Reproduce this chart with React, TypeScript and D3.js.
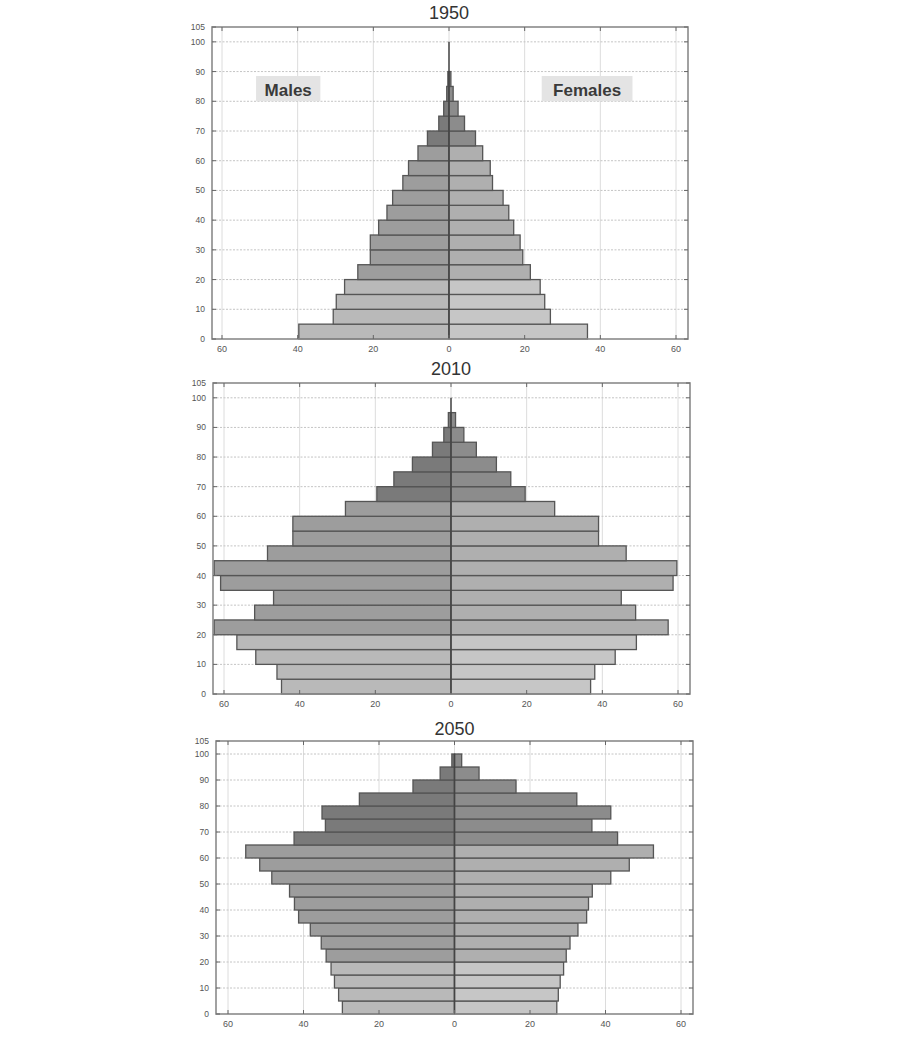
import React from "react";
import * as d3 from "d3";

const ageStarts = [0, 5, 10, 15, 20, 25, 30, 35, 40, 45, 50, 55, 60, 65, 70, 75, 80, 85, 90, 95];
const xTicks = [-60, -40, -20, 0, 20, 40, 60];
const yTicks = [0, 10, 20, 30, 40, 50, 60, 70, 80, 90, 100, 105];
const gridY = [10, 20, 30, 40, 50, 60, 70, 80, 90, 100];

const males1950 = [39.7, 30.6, 29.8, 27.6, 24.1, 20.8, 20.8, 18.6, 16.4, 14.9, 12.2, 10.7, 8.2, 5.7, 2.7, 1.4, 0.6, 0.3, 0, 0];
const females1950 = [36.6, 26.8, 25.3, 24.1, 21.5, 19.5, 18.8, 17.1, 15.8, 14.3, 11.5, 10.9, 8.9, 7.0, 4.1, 2.4, 1.1, 0.5, 0, 0];

const males2010 = [44.8, 46.0, 51.6, 56.6, 62.6, 51.9, 46.9, 60.9, 62.6, 48.5, 41.8, 41.8, 27.9, 19.6, 15.1, 10.2, 4.9, 1.9, 0.7, 0];
const females2010 = [36.9, 38.0, 43.4, 49.0, 57.4, 48.8, 45.0, 58.7, 59.7, 46.3, 39.0, 39.0, 27.4, 19.6, 15.8, 12.0, 6.7, 3.4, 1.2, 0];

const males2050 = [29.7, 30.7, 31.8, 32.7, 34.0, 35.3, 38.2, 41.3, 42.4, 43.7, 48.4, 51.6, 55.3, 42.5, 34.2, 35.1, 25.2, 11.0, 3.8, 0.7];
const females2050 = [27.1, 27.5, 28.0, 28.9, 29.6, 30.6, 32.7, 35.0, 35.5, 36.5, 41.4, 46.3, 52.7, 43.2, 36.4, 41.4, 32.4, 16.3, 6.5, 1.9];

const years = ["1950", "2010", "2050"];

const panels = [
  { year: years[0], males: males1950, females: females1950, xr: [222, 676], yr: [339, 27], box: [212, 688], titleY: 19, labels: true },
  { year: years[1], males: males2010, females: females2010, xr: [224, 678], yr: [694, 383], box: [213, 690], titleY: 375, labels: false },
  { year: years[2], males: males2050, females: females2050, xr: [228, 681], yr: [1014, 741], box: [216, 693], titleY: 735, labels: false },
];

function colorFor(age: number, side: "m" | "f") {
  if (age < 20) return side === "m" ? "#b9b9b9" : "#c6c6c6";
  if (age < 65) return side === "m" ? "#9d9d9d" : "#afafaf";
  return side === "m" ? "#7a7a7a" : "#8c8c8c";
}

const FONT = "'Liberation Sans', Arial, Helvetica, sans-serif";

function Panel({ p }: { p: any }) {
  const x = d3.scaleLinear().domain([-60, 60]).range(p.xr);
  const y = d3.scaleLinear().domain([0, 105]).range(p.yr);
  const [bl, br] = p.box;
  const bt = y(105);
  const bb = y(0);
  const cx = x(0);
  return (
    <g>
      <text x={cx} y={p.titleY} textAnchor="middle" fontFamily={FONT} fontSize={18} fill="#333">{p.year}</text>
      {xTicks.map((t) => (
        <line key={"vg" + t} x1={x(t)} x2={x(t)} y1={bt} y2={bb} stroke="#dcdcdc" strokeWidth={1} />
      ))}
      {gridY.map((t) => (
        <line key={"hg" + t} x1={bl} x2={br} y1={y(t)} y2={y(t)} stroke="#c4c4c4" strokeWidth={1} strokeDasharray="2,1.5" />
      ))}
      {ageStarts.map((a, i) => {
        const m = p.males[i];
        const f = p.females[i];
        const yt = y(a + 5);
        const h = y(a) - y(a + 5);
        return (
          <g key={"b" + a}>
            {m > 0 && (
              <rect x={x(-m)} y={yt} width={cx - x(-m)} height={h} fill={colorFor(a, "m")} stroke="#555" strokeWidth={1.3} />
            )}
            {f > 0 && (
              <rect x={cx} y={yt} width={x(f) - cx} height={h} fill={colorFor(a, "f")} stroke="#555" strokeWidth={1.3} />
            )}
          </g>
        );
      })}
      <line x1={cx} x2={cx} y1={y(0)} y2={y(100)} stroke="#444" strokeWidth={1.5} />
      <rect x={bl} y={bt} width={br - bl} height={bb - bt} fill="none" stroke="#8a8a8a" strokeWidth={1.6} />
      {xTicks.map((t) => (
        <g key={"xt" + t}>
          <line x1={x(t)} x2={x(t)} y1={bb} y2={bb - 4} stroke="#666" />
          <line x1={x(t)} x2={x(t)} y1={bt} y2={bt + 4} stroke="#666" />
          <text x={x(t)} y={bb + 13} textAnchor="middle" fontFamily={FONT} fontSize={9} fill="#555">{Math.abs(t)}</text>
        </g>
      ))}
      {yTicks.map((t) => (
        <g key={"yt" + t}>
          <line x1={bl} x2={bl + 4} y1={y(t)} y2={y(t)} stroke="#666" />
          <line x1={br} x2={br - 4} y1={y(t)} y2={y(t)} stroke="#666" />
          <text x={bl - 7} y={y(t) + 3} textAnchor="end" fontFamily={FONT} fontSize={8.5} fill="#555">{t}</text>
        </g>
      ))}
      {p.labels && (
        <g>
          <rect x={x(-51)} y={y(88.5)} width={x(-34) - x(-51)} height={y(80) - y(88.5)} fill="#e4e4e4" />
          <text x={(x(-51) + x(-34)) / 2} y={y(81.8)} textAnchor="middle" fontFamily={FONT} fontSize={17} fontWeight="bold" fill="#3a3a3a">Males</text>
          <rect x={x(24.5)} y={y(88.5)} width={x(48.5) - x(24.5)} height={y(80) - y(88.5)} fill="#e4e4e4" />
          <text x={(x(24.5) + x(48.5)) / 2} y={y(81.8)} textAnchor="middle" fontFamily={FONT} fontSize={17} fontWeight="bold" fill="#3a3a3a">Females</text>
        </g>
      )}
    </g>
  );
}

export default function App() {
  return (
    <svg width={920} height={1043} style={{ display: "block", background: "#fff", position: "absolute", left: 0, top: 0 }}>
      {panels.map((p) => (
        <Panel key={p.year} p={p} />
      ))}
    </svg>
  );
}
